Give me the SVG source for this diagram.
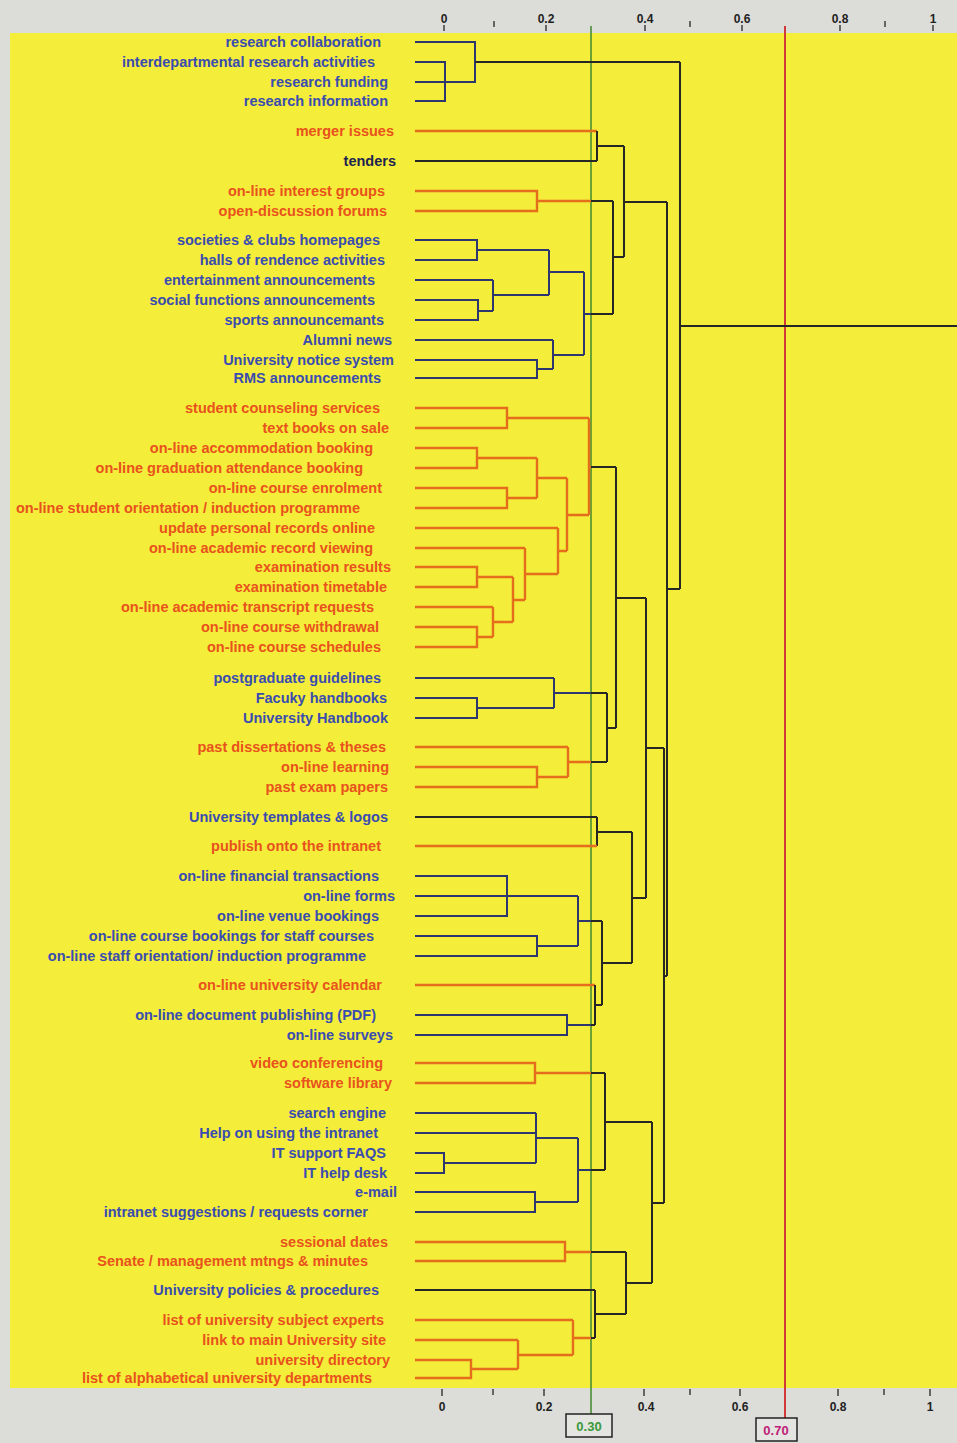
<svg xmlns="http://www.w3.org/2000/svg" width="957" height="1443" viewBox="0 0 957 1443">
  <style>
    .lbl { font-family: "Liberation Sans", Arial, sans-serif; font-size: 14.5px; font-weight: bold; text-anchor: end; }
    .lb { fill: #3a4cb0; }
    .lo { fill: #e8521c; }
    .ax { font-family: "Liberation Sans", Arial, sans-serif; font-size: 12px; font-weight: bold; fill: #222; text-anchor: middle; }
    .cb { fill: none; stroke: #2e3670; stroke-width: 2; }
    .co { fill: none; stroke: #e46e1c; stroke-width: 2.4; }
    .cd { fill: none; stroke: #262626; stroke-width: 2; }
    .tick { stroke: #333; stroke-width: 1.4; }
  </style>

  <!-- page background and axis bands -->
  <rect x="0" y="0" width="957" height="1443" fill="#dcdcd8"/>
  <rect x="10" y="33" width="947" height="1355" fill="#f4ed3a"/>

  <!-- top axis -->
  <g id="axis-top">
    <text class="ax" x="444" y="23">0</text>
    <text class="ax" x="546" y="23">0.2</text>
    <text class="ax" x="645" y="23">0.4</text>
    <text class="ax" x="742" y="23">0.6</text>
    <text class="ax" x="840" y="23">0.8</text>
    <text class="ax" x="933" y="23">1</text>
    <path class="tick" d="M444,25V31 M546,25V31 M645,25V31 M742,25V31 M840,25V31 M933,25V31 M494,21V27 M690,21V27 M885,21V27"/>
  </g>

  <!-- bottom axis -->
  <g id="axis-bottom">
    <path class="tick" d="M442,1389V1396 M493,1389V1395 M544,1389V1396 M644,1389V1396 M690,1389V1395 M740,1389V1396 M838,1389V1396 M884,1389V1395 M930,1389V1396"/>
    <text class="ax" x="442" y="1411">0</text>
    <text class="ax" x="544" y="1411">0.2</text>
    <text class="ax" x="646" y="1411">0.4</text>
    <text class="ax" x="740" y="1411">0.6</text>
    <text class="ax" x="838" y="1411">0.8</text>
    <text class="ax" x="930" y="1411">1</text>
  </g>

  <!-- cut-off lines -->
  <g id="cutoff-030">
    <line x1="591" y1="26" x2="591" y2="1414" stroke="#3f8a2e" stroke-width="1.5"/>
    <rect x="566" y="1414" width="46" height="23" fill="#e4e4e0" stroke="#222" stroke-width="1.5"/>
    <text x="589" y="1431" font-family="'Liberation Sans', Arial, sans-serif" font-size="13" font-weight="bold" fill="#3a9a3a" text-anchor="middle">0.30</text>
  </g>
  <g id="cutoff-070">
    <line x1="785" y1="26" x2="785" y2="1418" stroke="#d23a3a" stroke-width="2"/>
    <rect x="756" y="1418" width="41" height="23" fill="#e4e4e0" stroke="#222" stroke-width="1.5"/>
    <text x="776" y="1435" font-family="'Liberation Sans', Arial, sans-serif" font-size="13" font-weight="bold" fill="#c0207a" text-anchor="middle">0.70</text>
  </g>

  <!-- dendrogram branches -->
  <g id="connectors">
    <!-- research cluster -->
    <path class="cb" d="M415,42H475V82H415 M415,62H445V101H415"/>
    <path class="cd" d="M475,62H680"/>
    <!-- merger issues / tenders -->
    <path class="co" d="M415,131H597"/>
    <path class="cd" d="M415,161H597 M597,131V161 M597,146H624"/>
    <!-- discussion groups -->
    <path class="co" d="M415,191H537V211H415 M537,201H591"/>
    <path class="cd" d="M591,201H613"/>
    <!-- social / news cluster -->
    <path class="cb" d="M415,240H477V260H415 M477,250H549 M415,280H493 M415,300H478V320H415 M478,311H493 M493,280V311 M493,295H549 M549,250V295 M549,272H584 M415,340H553 M415,360H537V378H415 M537,369H553 M553,340V369 M553,355H584 M584,272V355 M584,314H591"/>
    <path class="cd" d="M591,314H613 M613,201V314 M613,257H624 M624,146V257 M624,202H667"/>
    <!-- student services cluster -->
    <path class="co" d="M415,408H507V428H415 M507,418H589 M415,448H477V468H415 M477,458H537 M415,488H507V508H415 M507,498H537 M537,458V498 M537,478H567 M415,528H558 M415,548H525 M415,567H477V587H415 M477,577H513 M415,607H493 M415,627H477V647H415 M477,637H493 M493,607V637 M493,622H513 M513,577V622 M513,600H525 M525,548V600 M525,574H558 M558,528V574 M558,551H567 M567,478V551 M567,515H589 M589,418V515 M589,467H591"/>
    <path class="cd" d="M591,467H616"/>
    <!-- handbooks -->
    <path class="cb" d="M415,678H554 M415,698H477V718H415 M477,708H554 M554,678V708 M554,693H591"/>
    <path class="cd" d="M591,693H607"/>
    <!-- teaching material -->
    <path class="co" d="M415,747H568 M415,767H537V787H415 M537,777H568 M568,747V777 M568,762H591"/>
    <path class="cd" d="M591,762H607 M607,693V762 M607,728H616 M616,467V728 M616,598H646"/>
    <!-- templates / publishing -->
    <path class="cd" d="M415,817H597 M597,817V846 M597,832H632"/>
    <path class="co" d="M415,846H597"/>
    <!-- on-line transactions -->
    <path class="cb" d="M415,876H507V916H415 M415,896H578 M415,936H537V956H415 M537,946H578 M578,896V946 M578,921H591"/>
    <path class="cd" d="M591,921H602"/>
    <path class="co" d="M415,985H595"/>
    <path class="cb" d="M415,1015H567V1035H415 M567,1025H591"/>
    <path class="cd" d="M591,1025H595 M595,985V1025 M595,1005H602 M602,921V1005 M602,963H632 M632,832V963 M632,898H646 M646,598V898 M646,748H664"/>
    <!-- conferencing / software -->
    <path class="co" d="M415,1063H535V1083H415 M535,1073H591"/>
    <path class="cd" d="M591,1073H605"/>
    <!-- help and support -->
    <path class="cb" d="M415,1113H536 M415,1133H536 M415,1153H444V1173H415 M444,1163H536 M536,1113V1163 M536,1138H578 M415,1192H535V1212H415 M535,1202H578 M578,1138V1202 M578,1170H591"/>
    <path class="cd" d="M591,1170H605 M605,1073V1170 M605,1122H652"/>
    <!-- governance -->
    <path class="co" d="M415,1242H565V1261H415 M565,1252H591"/>
    <path class="cd" d="M591,1252H626"/>
    <path class="cd" d="M415,1290H595"/>
    <!-- directories -->
    <path class="co" d="M415,1320H573 M415,1340H518 M415,1360H471V1378H415 M471,1369H518 M518,1340V1369 M518,1355H573 M573,1320V1355 M573,1338H591"/>
    <path class="cd" d="M591,1338H595 M595,1290V1338 M595,1314H626 M626,1252V1314 M626,1283H652 M652,1122V1283 M652,1203H664"/>
    <!-- upper merges and root -->
    <path class="cd" d="M664,748V1203 M664,976H667 M667,202V976 M667,589H680 M680,62V589 M680,326H957"/>
  </g>

  <!-- leaves -->
  <g id="n01"><text class="lbl lb" x="381" y="47">research collaboration</text></g>
  <g id="n02"><text class="lbl lb" x="375" y="67">interdepartmental research activities</text></g>
  <g id="n03"><text class="lbl lb" x="388" y="87">research funding</text></g>
  <g id="n04"><text class="lbl lb" x="388" y="106">research information</text></g>
  <g id="n05"><text class="lbl lo" x="394" y="136">merger issues</text></g>
  <g id="n06"><text class="lbl" fill="#1e2450" x="396" y="166">tenders</text></g>
  <g id="n07"><text class="lbl lo" x="385" y="196">on-line interest groups</text></g>
  <g id="n08"><text class="lbl lo" x="387" y="216">open-discussion forums</text></g>
  <g id="n09"><text class="lbl lb" x="380" y="245">societies &amp; clubs homepages</text></g>
  <g id="n10"><text class="lbl lb" x="385" y="265">halls of rendence activities</text></g>
  <g id="n11"><text class="lbl lb" x="375" y="285">entertainment announcements</text></g>
  <g id="n12"><text class="lbl lb" x="375" y="305">social functions announcements</text></g>
  <g id="n13"><text class="lbl lb" x="384" y="325">sports announcemants</text></g>
  <g id="n14"><text class="lbl lb" x="392" y="345">Alumni news</text></g>
  <g id="n15"><text class="lbl lb" x="394" y="365">University notice system</text></g>
  <g id="n16"><text class="lbl lb" x="381" y="383">RMS announcements</text></g>
  <g id="n17"><text class="lbl lo" x="380" y="413">student counseling services</text></g>
  <g id="n18"><text class="lbl lo" x="389" y="433">text books on sale</text></g>
  <g id="n19"><text class="lbl lo" x="373" y="453">on-line accommodation booking</text></g>
  <g id="n20"><text class="lbl lo" x="363" y="473">on-line graduation attendance booking</text></g>
  <g id="n21"><text class="lbl lo" x="382" y="493">on-line course enrolment</text></g>
  <g id="n22"><text class="lbl lo" x="360" y="513">on-line student orientation / induction programme</text></g>
  <g id="n23"><text class="lbl lo" x="375" y="533">update personal records online</text></g>
  <g id="n24"><text class="lbl lo" x="373" y="553">on-line academic record viewing</text></g>
  <g id="n25"><text class="lbl lo" x="391" y="572">examination results</text></g>
  <g id="n26"><text class="lbl lo" x="387" y="592">examination timetable</text></g>
  <g id="n27"><text class="lbl lo" x="374" y="612">on-line academic transcript requests</text></g>
  <g id="n28"><text class="lbl lo" x="379" y="632">on-line course withdrawal</text></g>
  <g id="n29"><text class="lbl lo" x="381" y="652">on-line course schedules</text></g>
  <g id="n30"><text class="lbl lb" x="381" y="683">postgraduate guidelines</text></g>
  <g id="n31"><text class="lbl lb" x="387" y="703">Facuky handbooks</text></g>
  <g id="n32"><text class="lbl lb" x="388" y="723">University Handbook</text></g>
  <g id="n33"><text class="lbl lo" x="386" y="752">past dissertations &amp; theses</text></g>
  <g id="n34"><text class="lbl lo" x="389" y="772">on-line learning</text></g>
  <g id="n35"><text class="lbl lo" x="388" y="792">past exam papers</text></g>
  <g id="n36"><text class="lbl lb" x="388" y="822">University templates &amp; logos</text></g>
  <g id="n37"><text class="lbl lo" x="381" y="851">publish onto the intranet</text></g>
  <g id="n38"><text class="lbl lb" x="379" y="881">on-line financial transactions</text></g>
  <g id="n39"><text class="lbl lb" x="395" y="901">on-line forms</text></g>
  <g id="n40"><text class="lbl lb" x="379" y="921">on-line venue bookings</text></g>
  <g id="n41"><text class="lbl lb" x="374" y="941">on-line course bookings for staff courses</text></g>
  <g id="n42"><text class="lbl lb" x="366" y="961">on-line staff orientation/ induction programme</text></g>
  <g id="n43"><text class="lbl lo" x="382" y="990">on-line university calendar</text></g>
  <g id="n44"><text class="lbl lb" x="376" y="1020">on-line document publishing (PDF)</text></g>
  <g id="n45"><text class="lbl lb" x="393" y="1040">on-line surveys</text></g>
  <g id="n46"><text class="lbl lo" x="383" y="1068">video conferencing</text></g>
  <g id="n47"><text class="lbl lo" x="392" y="1088">software library</text></g>
  <g id="n48"><text class="lbl lb" x="386" y="1118">search engine</text></g>
  <g id="n49"><text class="lbl lb" x="378" y="1138">Help on using the intranet</text></g>
  <g id="n50"><text class="lbl lb" x="386" y="1158">IT support FAQS</text></g>
  <g id="n51"><text class="lbl lb" x="387" y="1178">IT help desk</text></g>
  <g id="n52"><text class="lbl lb" x="397" y="1197">e-mail</text></g>
  <g id="n53"><text class="lbl lb" x="368" y="1217">intranet suggestions / requests corner</text></g>
  <g id="n54"><text class="lbl lo" x="388" y="1247">sessional dates</text></g>
  <g id="n55"><text class="lbl lo" x="368" y="1266">Senate / management mtngs &amp; minutes</text></g>
  <g id="n56"><text class="lbl lb" x="379" y="1295">University policies &amp; procedures</text></g>
  <g id="n57"><text class="lbl lo" x="384" y="1325">list of university subject experts</text></g>
  <g id="n58"><text class="lbl lo" x="386" y="1345">link to main University site</text></g>
  <g id="n59"><text class="lbl lo" x="390" y="1365">university directory</text></g>
  <g id="n60"><text class="lbl lo" x="372" y="1383">list of alphabetical university departments</text></g>
</svg>
